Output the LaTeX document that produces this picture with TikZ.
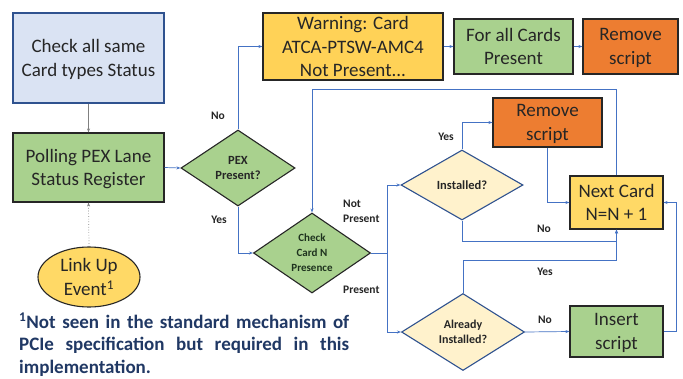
\documentclass[tikz,border=0pt]{standalone}
\usepackage{fontspec}
\setmainfont{Carlito}
\usetikzlibrary{shapes.geometric,arrows.meta,calc}
\definecolor{bluefill}{HTML}{DAE3F3}
\definecolor{blueline}{HTML}{2F528F}
\definecolor{greenfill}{HTML}{A9D18E}
\definecolor{yellowfill}{HTML}{FFD966}
\definecolor{warnfill}{HTML}{FFD257}
\definecolor{orangefill}{HTML}{ED7D31}
\definecolor{paleyellow}{HTML}{FFF2CC}
\definecolor{conncol}{HTML}{4472C4}
\definecolor{darkline}{HTML}{262626}
\definecolor{notecol}{HTML}{203864}
\begin{document}
\begin{tikzpicture}[x=1pt,y=-1pt,
  boxtext/.style={font=\fontsize{19}{23.5}\selectfont, text=darkline, align=center, text depth=0pt},
  procbox/.style={draw=darkline, line width=1.1pt, inner sep=0pt, boxtext},
  decide/.style={shape=diamond, aspect=1.5, inner sep=0pt, line width=1.1pt,
     align=center, font=\bfseries\fontsize{12.5}{14.5}\selectfont, text=darkline},
  conn/.style={draw=conncol, line width=0.7pt, -{Stealth[length=4pt,width=3pt]}},
  plainconn/.style={draw=conncol, line width=0.7pt},
  lbl/.style={font=\bfseries\fontsize{11.5}{15}\selectfont, text=darkline, inner sep=0pt, align=left}
]
\path[fill=white] (0,0) rectangle (683,378);
\useasboundingbox (0,0) rectangle (683,378);

% boxes
\node[procbox, draw=blueline, fill=bluefill, minimum width=151, minimum height=90] (chk) at (88.5,58) {Check all same\\Card types Status};
\node[procbox, fill=greenfill, minimum width=151, minimum height=69] (poll) at (88.5,167.5) {Polling PEX Lane\\Status Register};
\node[ellipse, draw=darkline, line width=1.1pt, fill=yellowfill, minimum width=102, minimum height=60, inner sep=0pt, boxtext] (link) at (89,277) {Link Up\\Event\textsuperscript{1}};
\node[decide, draw=darkline, fill=greenfill, minimum width=114, minimum height=76] (pex) at (238,168) {PEX\\Present?};
\node[procbox, fill=warnfill, minimum width=180, minimum height=67] (warn) at (353,46.5) {Warning: Card\\ATCA-PTSW-AMC4\\Not Present...};
\node[procbox, fill=greenfill, minimum width=119, minimum height=55] (forall) at (513.5,46.5) {For all Cards\\Present};
\node[procbox, fill=orangefill, minimum width=95, minimum height=55] (rmone) at (630.5,46.5) {Remove\\script};
\node[decide, draw=darkline, fill=greenfill, minimum width=117, minimum height=80, font=\bfseries\fontsize{11}{15}\selectfont, text={rgb,255:red,30;green,50;blue,30}] (chkN) at (312,253) {Check\\Card N\\Presence};
\node[decide, draw=blueline, fill=paleyellow, minimum width=122, minimum height=70] (inst) at (462,185) {Installed?};
\node[procbox, fill=orangefill, minimum width=109, minimum height=49] (rmtwo) at (547.5,122.5) {Remove\\script};
\node[procbox, fill=yellowfill, minimum width=93, minimum height=53] (next) at (616.5,202.5) {Next Card\\N=N + 1};
\node[decide, draw=blueline, fill=paleyellow, minimum width=123, minimum height=77, font=\bfseries\fontsize{12}{15}\selectfont] (already) at (463,332) {Already\\Installed?};
\node[procbox, fill=greenfill, minimum width=93, minimum height=51] (insert) at (616.5,331.5) {Insert\\script};

% connectors
\draw[conn, draw=gray] (chk.south) -- (poll.north);
\draw[conn, draw=gray, dotted] (link.north) -- (poll.south);
\draw[conn] (poll.east) -- (pex.west);
\draw[conn] (pex.north) |- (warn.west);
\draw[conn] (warn.east) -- (forall.west);
\draw[conn] (forall.east) -- (rmone.west);
\draw[conn] (pex.south) |- (chkN.west);
\draw[conn] (next.north) -- (next.north |- 0,89) -| (chkN.north);
\coordinate (split) at (387,253);
\draw[plainconn] (chkN.east) -- (split);
\draw[conn] (split) |- (inst.west);
\draw[conn] (split) |- (already.west);
\draw[conn] (inst.north) |- (rmtwo.west);
\draw[conn] (rmtwo.south) |- (next.west);
\draw[conn] (inst.south) -- ++(0,21) -| (next.south);
\draw[conn] (already.north) -- ++(0,-33) -| (next.south);
\draw[conn] (already.east) -- (insert.west);
\draw[conn] (insert.east) -- ++(13,0) |- (next.east);

% labels
\node[lbl] (lno1) at (218,116) {No};
\node[lbl] (lyes1) at (219,220) {Yes};
\node[lbl, anchor=west] (lnotp) at (343,211) {Not\\Present};
\node[lbl, anchor=west] (lpres) at (343,290) {Present};
\node[lbl] (lyes2) at (446,137) {Yes};
\node[lbl] (lno2) at (544,229) {No};
\node[lbl] (lyes3) at (545,272) {Yes};
\node[lbl] (lno3) at (545,320) {No};

% footnote
\node[anchor=north west, text width=330, inner sep=0pt, align=justify, text=notecol,
  font=\bfseries\fontsize{19}{22.5}\selectfont] (note) at (19,313)
  {\textsuperscript{1}Not seen in the standard mechanism of\linebreak PCIe specification but required in this\linebreak implementation.};
\end{tikzpicture}
\end{document}
